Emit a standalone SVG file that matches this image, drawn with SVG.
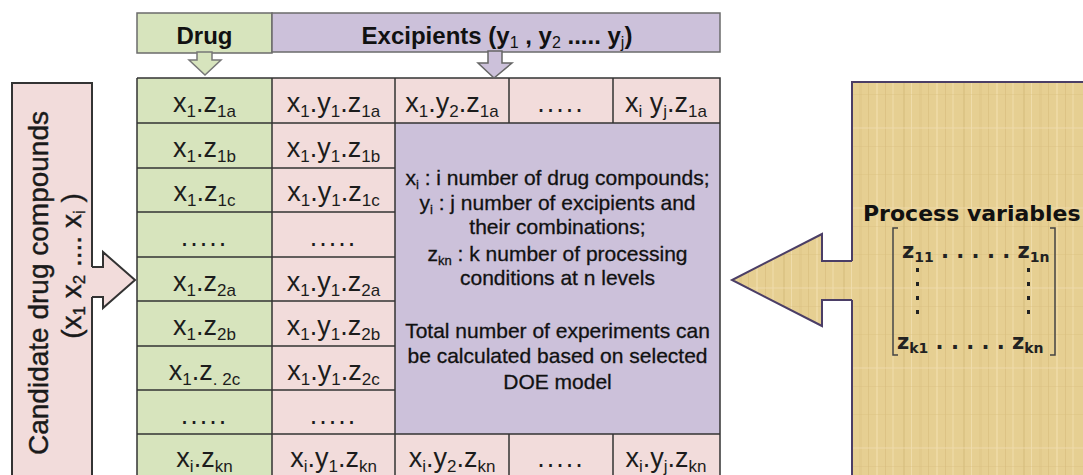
<svg xmlns="http://www.w3.org/2000/svg" width="1083" height="475" viewBox="0 0 1083 475">
<style>
.c{font-family:"Liberation Sans",Arial,sans-serif;font-size:27px;fill:#1c1c1c;text-anchor:middle}
.c .s{font-size:17px}
.m{font-family:"Liberation Sans",Arial,sans-serif;font-size:21px;fill:#111;text-anchor:middle;stroke:#111;stroke-width:0.3}
.m .s{font-size:13px}
.h{font-family:"Liberation Sans",Arial,sans-serif;font-size:24px;font-weight:bold;fill:#111;text-anchor:middle}
.h .s{font-size:16px;font-weight:normal}
.l{font-family:"Liberation Sans",Arial,sans-serif;font-size:28px;fill:#1a1a1a;text-anchor:middle;stroke:#1a1a1a;stroke-width:0.4}
.l .s{font-size:17px}
.p{font-family:"DejaVu Sans",Verdana,sans-serif;font-size:22px;font-weight:bold;fill:#111}
.z{font-family:"DejaVu Sans",Verdana,sans-serif;font-size:21px;font-weight:bold;fill:#222}
.z .s{font-size:14px}
.grid{stroke:#333;stroke-width:1.5;fill:none}
.green{fill:#d7e4bd}
.pink{fill:#f2dcdb}
.purple{fill:#ccc1da}
</style>
<defs>
<pattern id="tex" width="60" height="80" patternUnits="userSpaceOnUse">
<rect width="60" height="80" fill="#e6cf92"/>
<rect x="3" width="2" height="80" fill="#d3b877" opacity=".45"/>
<rect x="11" width="1" height="80" fill="#f3e2b4" opacity=".7"/>
<rect x="19" width="3" height="80" fill="#dcc383" opacity=".4"/>
<rect x="28" width="1" height="80" fill="#cfb370" opacity=".4"/>
<rect x="36" width="2" height="80" fill="#f1deae" opacity=".6"/>
<rect x="45" width="1" height="80" fill="#d3b877" opacity=".5"/>
<rect x="52" width="2" height="80" fill="#efdba9" opacity=".6"/>
<rect y="14" width="60" height="1" fill="#d6bc7c" opacity=".35"/>
<rect y="47" width="60" height="2" fill="#f0ddb0" opacity=".4"/>
<rect y="66" width="60" height="1" fill="#d6bc7c" opacity=".3"/>
</pattern>
</defs>
<rect width="1083" height="475" fill="#fff"/>

<g id="drug-header">
<rect x="137" y="13" width="135" height="40" class="green" stroke="#6b6b6b" stroke-width="1.5"/>
<text class="h" x="204.5" y="44">Drug</text>
</g>
<g id="excipients-header">
<rect x="272" y="13" width="448" height="39" class="purple" stroke="#6b6b6b" stroke-width="1.5"/>
<text class="h" x="497" y="44">Excipients (y<tspan class="s" dy="4">1</tspan><tspan dy="-4"> , y</tspan><tspan class="s" dy="4">2</tspan><tspan dy="-4"> ..... y</tspan><tspan class="s" dy="4">j</tspan><tspan dy="-4">)</tspan></text>
</g>

<g id="candidates">
<rect x="12" y="83" width="80" height="400" class="pink" stroke="#333" stroke-width="2"/>
<polygon points="90,267 103,267 103,252 135,280 103,308 103,297 90,297" class="pink"/>
<polyline points="92,267 103,267 103,252 135,280 103,308 103,297 92,297" fill="none" stroke="#333" stroke-width="2" stroke-linejoin="miter"/>
<text class="l" transform="translate(48,283) rotate(-90)">Candidate drug compounds</text>
<text class="l" transform="translate(81,266) rotate(-90)">(x<tspan class="s" dy="4">1</tspan><tspan dy="-4"> x</tspan><tspan class="s" dy="4">2</tspan><tspan dy="-4"> .... x</tspan><tspan class="s" dy="4">i</tspan><tspan dy="-4"> )</tspan></text>
</g>

<g id="process-variables">
<rect x="852" y="82" width="240" height="400" fill="url(#tex)" stroke="#4b3e66" stroke-width="2"/>
<polygon points="854,261 822,261 822,234 732,280 822,326 822,300 854,300" fill="url(#tex)"/>
<polyline points="852,261 822,261 822,234 732,280 822,326 822,300 852,300" fill="none" stroke="#4b3e66" stroke-width="2"/>
<text class="p" x="863" y="221">Process variables</text>
<path d="M898,228 H893 V355 H898 M1050,228 H1055 V355 H1050" fill="none" stroke="#444" stroke-width="1.5"/>
<text class="z" x="902" y="258">z<tspan class="s" dy="4">11</tspan><tspan dy="-4"> . . . . . z</tspan><tspan class="s" dy="4">1n</tspan></text>
<g fill="#222">
<rect x="916" y="268" width="3" height="4"/><rect x="916" y="282" width="3" height="4"/><rect x="916" y="296" width="3" height="4"/><rect x="916" y="310" width="3" height="4"/>
<rect x="1027" y="268" width="3" height="4"/><rect x="1027" y="282" width="3" height="4"/><rect x="1027" y="296" width="3" height="4"/><rect x="1027" y="310" width="3" height="4"/>
</g>
<text class="z" x="897" y="349">z<tspan class="s" dy="4">k1</tspan><tspan dy="-4"> . . . . . z</tspan><tspan class="s" dy="4">kn</tspan></text>
</g>

<g id="matrix">
<rect x="137" y="78" width="135" height="400" class="green"/>
<rect x="272" y="78" width="123" height="400" class="pink"/>
<rect x="395" y="78" width="325" height="45" class="pink"/>
<rect x="395" y="123" width="325" height="311" class="purple"/>
<rect x="395" y="434" width="325" height="44" class="pink"/>
<path class="grid" d="M137,78 H720 V480 M137,78 V480 M272,78 V480 M395,78 V480 M509,78 V123 M613,78 V123 M509,434 V480 M613,434 V480 M137,123 H720 M137,168 H395 M137,212 H395 M137,257 H395 M137,301 H395 M137,346 H395 M137,390 H395 M137,434 H720"/>

<text class="c" x="204.5" y="112">x<tspan class="s" dy="5">1</tspan><tspan dy="-5">.z</tspan><tspan class="s" dy="5">1a</tspan></text>
<text class="c" x="333.5" y="112">x<tspan class="s" dy="5">1</tspan><tspan dy="-5">.y</tspan><tspan class="s" dy="5">1</tspan><tspan dy="-5">.z</tspan><tspan class="s" dy="5">1a</tspan></text>
<text class="c" x="452" y="112">x<tspan class="s" dy="5">1</tspan><tspan dy="-5">.y</tspan><tspan class="s" dy="5">2</tspan><tspan dy="-5">.z</tspan><tspan class="s" dy="5">1a</tspan></text>
<text class="c" x="561" y="112" letter-spacing="2">.....</text>
<text class="c" x="666" y="112">x<tspan class="s" dy="5">i</tspan><tspan dy="-5"> y</tspan><tspan class="s" dy="5">j</tspan><tspan dy="-5">.z</tspan><tspan class="s" dy="5">1a</tspan></text>

<text class="c" x="204.5" y="157">x<tspan class="s" dy="5">1</tspan><tspan dy="-5">.z</tspan><tspan class="s" dy="5">1b</tspan></text>
<text class="c" x="333.5" y="157">x<tspan class="s" dy="5">1</tspan><tspan dy="-5">.y</tspan><tspan class="s" dy="5">1</tspan><tspan dy="-5">.z</tspan><tspan class="s" dy="5">1b</tspan></text>

<text class="c" x="204.5" y="201">x<tspan class="s" dy="5">1</tspan><tspan dy="-5">.z</tspan><tspan class="s" dy="5">1c</tspan></text>
<text class="c" x="333.5" y="201">x<tspan class="s" dy="5">1</tspan><tspan dy="-5">.y</tspan><tspan class="s" dy="5">1</tspan><tspan dy="-5">.z</tspan><tspan class="s" dy="5">1c</tspan></text>

<text class="c" x="204.5" y="246" letter-spacing="2">.....</text>
<text class="c" x="333.5" y="246" letter-spacing="2">.....</text>

<text class="c" x="204.5" y="291">x<tspan class="s" dy="5">1</tspan><tspan dy="-5">.z</tspan><tspan class="s" dy="5">2a</tspan></text>
<text class="c" x="333.5" y="291">x<tspan class="s" dy="5">1</tspan><tspan dy="-5">.y</tspan><tspan class="s" dy="5">1</tspan><tspan dy="-5">.z</tspan><tspan class="s" dy="5">2a</tspan></text>

<text class="c" x="204.5" y="335">x<tspan class="s" dy="5">1</tspan><tspan dy="-5">.z</tspan><tspan class="s" dy="5">2b</tspan></text>
<text class="c" x="333.5" y="335">x<tspan class="s" dy="5">1</tspan><tspan dy="-5">.y</tspan><tspan class="s" dy="5">1</tspan><tspan dy="-5">.z</tspan><tspan class="s" dy="5">2b</tspan></text>

<text class="c" x="204.5" y="380">x<tspan class="s" dy="5">1</tspan><tspan dy="-5">.z</tspan><tspan class="s" dy="5">. 2c</tspan></text>
<text class="c" x="333.5" y="380">x<tspan class="s" dy="5">1</tspan><tspan dy="-5">.y</tspan><tspan class="s" dy="5">1</tspan><tspan dy="-5">.z</tspan><tspan class="s" dy="5">2c</tspan></text>

<text class="c" x="204.5" y="424" letter-spacing="2">.....</text>
<text class="c" x="333.5" y="424" letter-spacing="2">.....</text>

<text class="c" x="204.5" y="467">x<tspan class="s" dy="5">i</tspan><tspan dy="-5">.z</tspan><tspan class="s" dy="5">kn</tspan></text>
<text class="c" x="333.5" y="467">x<tspan class="s" dy="5">i</tspan><tspan dy="-5">.y</tspan><tspan class="s" dy="5">1</tspan><tspan dy="-5">.z</tspan><tspan class="s" dy="5">kn</tspan></text>
<text class="c" x="452" y="467">x<tspan class="s" dy="5">i</tspan><tspan dy="-5">.y</tspan><tspan class="s" dy="5">2</tspan><tspan dy="-5">.z</tspan><tspan class="s" dy="5">kn</tspan></text>
<text class="c" x="561" y="467" letter-spacing="2">.....</text>
<text class="c" x="666" y="467">x<tspan class="s" dy="5">i</tspan><tspan dy="-5">.y</tspan><tspan class="s" dy="5">j</tspan><tspan dy="-5">.z</tspan><tspan class="s" dy="5">kn</tspan></text>
</g>

<g id="legend">
<text class="m" x="557.5" y="185">x<tspan class="s" dy="4">i</tspan><tspan dy="-4"> : i number of drug compounds;</tspan></text>
<text class="m" x="557.5" y="210">y<tspan class="s" dy="4">i</tspan><tspan dy="-4"> : j number of excipients and</tspan></text>
<text class="m" x="557.5" y="234">their combinations;</text>
<text class="m" x="557.5" y="261">z<tspan class="s" dy="4">kn</tspan><tspan dy="-4"> : k number of processing</tspan></text>
<text class="m" x="557.5" y="285">conditions at n levels</text>
<text class="m" x="557.5" y="338">Total number of experiments can</text>
<text class="m" x="557.5" y="363">be calculated based on selected</text>
<text class="m" x="557.5" y="389">DOE model</text>
</g>

<g id="connectors">
<polygon points="197,52 212,52 212,60 221,60 205,75 189,60 197,60" class="green" stroke="#777" stroke-width="1.5" stroke-linejoin="miter"/>
<polygon points="488,51 502,51 502,63 512,63 494,78 478,63 488,63" class="purple" stroke="#666" stroke-width="1.5" stroke-linejoin="miter"/>
</g>
</svg>
